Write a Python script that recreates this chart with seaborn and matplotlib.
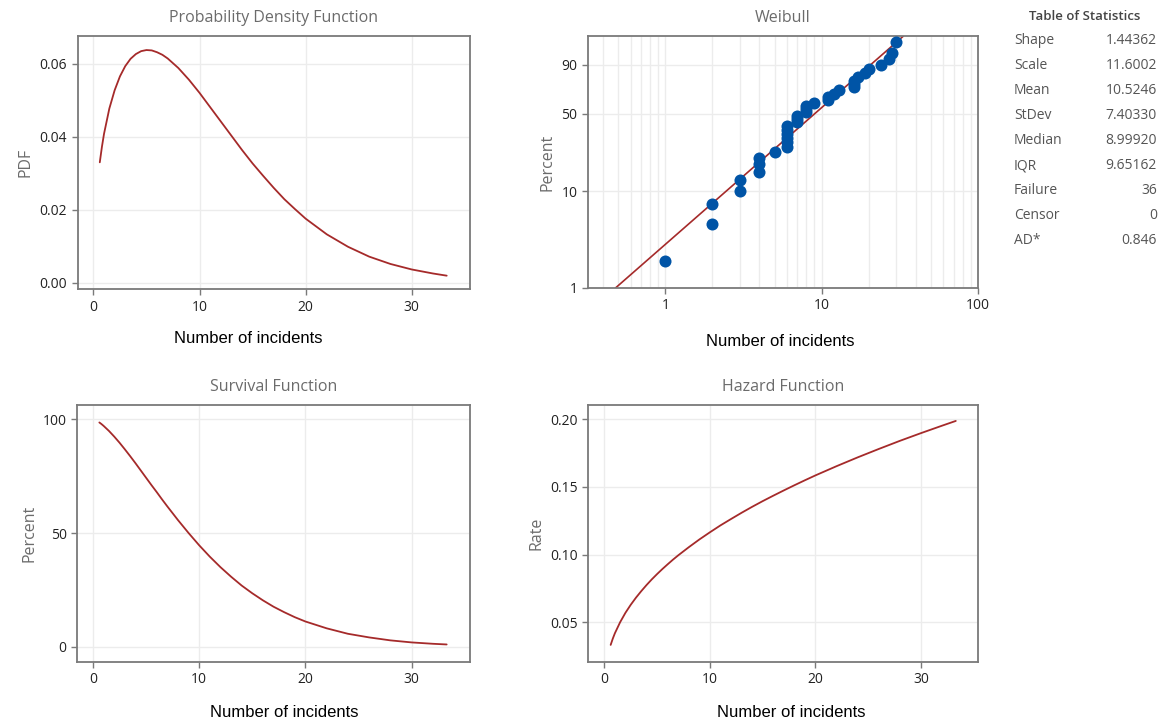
import numpy as np
import pandas as pd
import matplotlib
matplotlib.use("Agg")
import matplotlib.pyplot as plt
import seaborn as sns

# curve values (x = number of incidents)
curve_x = [0.6, 0.8, 1, 1.5, 2, 2.5, 3, 3.5, 4, 4.5, 5, 5.5, 6, 6.5, 7, 8, 9,
           10, 11, 12, 13, 14, 15, 16, 17, 18, 19, 20, 22, 24, 26, 28, 30,
           32, 33.3]
pdf_vals = [0.0330, 0.0372, 0.0408, 0.0477, 0.0527, 0.0565, 0.0593, 0.0613,
            0.0626, 0.0634, 0.0637, 0.0636, 0.0631, 0.0624, 0.0614, 0.0588,
            0.0556, 0.0520, 0.0481, 0.0442, 0.0403, 0.0364, 0.0327, 0.0293,
            0.0260, 0.0229, 0.0202, 0.0176, 0.0133, 0.0099, 0.0072, 0.0052,
            0.0037, 0.0026, 0.0020]
surv_vals = [98.6, 97.9, 97.1, 94.9, 92.4, 89.7, 86.8, 83.8, 80.7, 77.5, 74.3,
             71.1, 68.0, 64.8, 61.7, 55.7, 50.0, 44.6, 39.6, 35.0, 30.8, 26.9,
             23.5, 20.4, 17.6, 15.2, 13.0, 11.1, 8.1, 5.7, 4.1, 2.8, 1.9, 1.3,
             1.0]
haz_vals = [0.0334, 0.0380, 0.0420, 0.0502, 0.0571, 0.0630, 0.0683, 0.0731,
            0.0776, 0.0818, 0.0857, 0.0894, 0.0929, 0.0963, 0.0995, 0.1055,
            0.1112, 0.1165, 0.1216, 0.1263, 0.1309, 0.1353, 0.1395, 0.1435,
            0.1474, 0.1512, 0.1549, 0.1585, 0.1653, 0.1718, 0.1780, 0.1840,
            0.1897, 0.1952, 0.1987]

# probability plot points
obs_x = [1, 2, 2, 3, 3, 4, 4, 4, 5, 6, 6, 6, 6, 6, 6, 7, 7, 7, 8, 8, 8, 9,
         11, 11, 12, 13, 16, 16, 16, 17, 19, 20, 24, 27, 28, 30]
obs_pct = [1.92, 4.67, 7.42, 10.16, 12.91, 15.66, 18.41, 21.15, 23.90, 26.65,
           29.40, 32.14, 34.89, 37.64, 40.38, 43.13, 45.88, 48.63, 51.37,
           54.12, 56.87, 59.62, 62.36, 65.11, 67.86, 70.60, 73.35, 76.10,
           78.85, 81.59, 84.34, 87.09, 89.84, 92.58, 95.33, 98.08]
fit_x = [0.48, 33.4]
fit_pct = [1, 99]

stat_names = ["Shape", "Scale", "Mean", "StDev", "Median", "IQR", "Failure", "Censor", "AD*"]
stat_values = ["1.44362", "11.6002", "10.5246", "7.40330", "8.99920", "9.65162", "36", "0", "0.846"]

sns.set_style("white")
plt.rcParams['font.family'] = ['Open Sans', 'DejaVu Sans']

RED = "#a52a2a"
BLUE = "#0054a6"
GRAY = "#6b6b6b"
GRID = "#ececec"

curves = pd.DataFrame({"x": curve_x, "pdf": pdf_vals, "surv": surv_vals, "haz": haz_vals})
pts = pd.DataFrame({"x": obs_x, "pct": obs_pct})
fit = pd.DataFrame({"x": fit_x, "pct": fit_pct})

fig = plt.figure(figsize=(11.62, 7.23), dpi=100)
ax1 = fig.add_axes([0.0667, 0.600, 0.3378, 0.350])
ax2 = fig.add_axes([0.5060, 0.6017, 0.3356, 0.3485])
ax3 = fig.add_axes([0.0663, 0.0844, 0.3382, 0.3555])
ax4 = fig.add_axes([0.5060, 0.0844, 0.3356, 0.3555])


def style(ax, title, ylab):
    ax.set_title(title, fontsize=11.5, color=GRAY, pad=10)
    ax.set_ylabel(ylab, fontsize=11.5, color=GRAY)
    ax.set_xlabel("Number of incidents", fontsize=12, color="black",
                  family=["Liberation Sans", "DejaVu Sans"])
    ax.grid(True, color=GRID, lw=1)
    ax.set_axisbelow(True)
    for s in ax.spines.values():
        s.set_color("#7a7a7a")
        s.set_linewidth(1.3)
    ax.tick_params(direction="out", length=4, width=1, color="#7a7a7a",
                   labelsize=10, labelcolor="#222222", bottom=True, left=True)


# PDF
sns.lineplot(data=curves, x="x", y="pdf", ax=ax1, color=RED, lw=1.3)
style(ax1, "Probability Density Function", "PDF")
ax1.set_xlim(-1.5, 35.5)
ax1.set_ylim(-0.0017, 0.0675)
ax1.set_xticks([0, 10, 20, 30])
ax1.set_yticks([0.0, 0.02, 0.04, 0.06])
ax1.set_yticklabels(["0.00", "0.02", "0.04", "0.06"])
ax1.xaxis.set_label_coords(0.434, -0.166)

# Weibull probability plot
def fwd(p):
    p = np.clip(np.asarray(p, dtype=float), 1e-6, 99.9999)
    return np.log(-np.log(1 - p / 100))


def inv(w):
    return 100 * (1 - np.exp(-np.exp(w)))


ax2.set_xscale("log")
ax2.set_yscale("function", functions=(fwd, inv))
sns.lineplot(data=fit, x="x", y="pct", ax=ax2, color=RED, lw=1.2, zorder=2)
sns.scatterplot(data=pts, x="x", y="pct", ax=ax2, color=BLUE, s=75,
                edgecolor=BLUE, linewidth=0, zorder=3, clip_on=False)
style(ax2, "Weibull", "Percent")
ax2.set_xlim(0.32, 100)
ax2.set_ylim(1, 99)
ax2.set_xticks([1, 10, 100])
ax2.set_xticklabels(["1", "10", "100"])
ax2.set_yticks([1, 10, 50, 90])
ax2.set_yticklabels(["1", "10", "50", "90"])
ax2.xaxis.set_minor_locator(matplotlib.ticker.LogLocator(base=10, subs=np.arange(2, 10)))
ax2.xaxis.set_minor_formatter(matplotlib.ticker.NullFormatter())
ax2.tick_params(axis="x", which="minor", length=0)
ax2.grid(True, which="minor", axis="x", color=GRID, lw=1)
ax2.xaxis.set_label_coords(0.492, -0.183)

# Survival
sns.lineplot(data=curves, x="x", y="surv", ax=ax3, color=RED, lw=1.3)
style(ax3, "Survival Function", "Percent")
ax3.set_xlim(-1.5, 35.5)
ax3.set_ylim(-6.7, 106.3)
ax3.set_xticks([0, 10, 20, 30])
ax3.set_yticks([0, 50, 100])
ax3.xaxis.set_label_coords(0.527, -0.167)

# Hazard
sns.lineplot(data=curves, x="x", y="haz", ax=ax4, color=RED, lw=1.3)
style(ax4, "Hazard Function", "Rate")
ax4.set_xlim(-1.55, 35.4)
ax4.set_ylim(0.0208, 0.2105)
ax4.set_xticks([0, 10, 20, 30])
ax4.set_yticks([0.05, 0.10, 0.15, 0.20])
ax4.set_yticklabels(["0.05", "0.10", "0.15", "0.20"])
ax4.xaxis.set_label_coords(0.52, -0.167)

# table of statistics
fig.text(1085 / 1162, 1 - 16 / 723, "Table of Statistics", ha="center", va="center",
         fontsize=9.5, color="#444444", fontweight="semibold")
for i, (n, v) in enumerate(zip(stat_names, stat_values)):
    y = 1 - (41 + 24.9 * i) / 723
    fig.text(1014 / 1162, y, n, ha="left", va="center", fontsize=10, color="#555555")
    fig.text(1157 / 1162, y, v, ha="right", va="center", fontsize=10, color="#555555")

fig.savefig("out.png", dpi=100)
